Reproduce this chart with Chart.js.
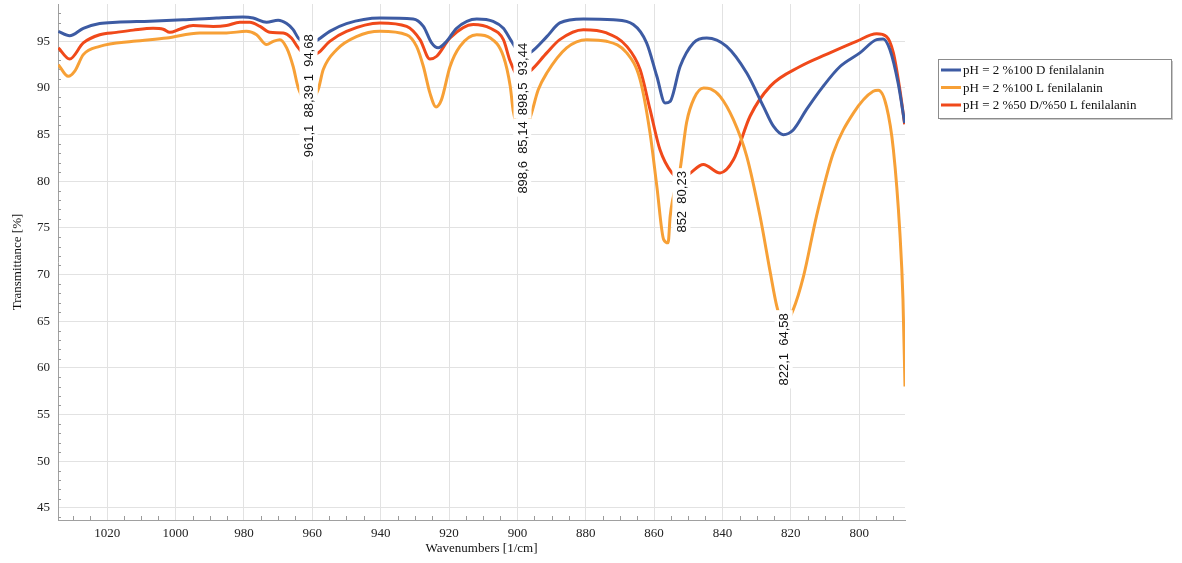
<!DOCTYPE html>
<html>
<head>
<meta charset="utf-8">
<script src="https://cdn.jsdelivr.net/npm/chart.js@4.4.0/dist/chart.umd.min.js"></script>
<style>
  html, body { margin: 0; padding: 0; background: #fff; }
</style>
</head>
<body>
<canvas id="ir-chart" width="1182" height="563"></canvas>
<script>
// series names (legend)
const seriesNames = ['pH = 2 %100 D fenilalanin', 'pH = 2 %100 L fenilalanin', 'pH = 2 %50 D/%50 L fenilalanin'];
const seriesColors = ['#3d5ba3', '#f7a036', '#f0491a'];

// %100 D
const dWave = [1034.3, 1031, 1027, 1022.2, 1017.3, 1007.5, 997.8, 988, 980.3, 977.3, 973.4, 970, 967.5, 965.6, 964.1, 961.1, 958.3, 954.9, 950, 940.2, 930.5, 927.5, 925.1, 923.2, 920.7, 917.8, 911.9, 907.1, 904.1, 901.7, 898.5, 895.8, 891.4, 887.6, 880.7, 871.9, 866.1, 862.2, 859.2, 856.8, 855.3, 852.4, 848.5, 844.6, 838.8, 832.9, 828, 825.1, 822.2, 819.3, 815.4, 810.5, 805.6, 799.8, 794.9, 793, 791, 788.6, 786.7];
const dTrans = [96.07, 95.6, 96.4, 96.9, 97.04, 97.15, 97.3, 97.5, 97.6, 97.5, 97.04, 97.25, 96.9, 96.25, 95.36, 94.68, 95.18, 96.07, 96.9, 97.5, 97.4, 96.6, 94.83, 94.3, 95.0, 96.4, 97.4, 97.15, 96.4, 95.0, 93.44, 93.9, 95.5, 96.97, 97.4, 97.3, 96.8, 94.83, 91.25, 88.4, 88.57, 92.3, 94.83, 95.36, 94.46, 91.6, 88.0, 85.9, 85.0, 85.5, 87.7, 90.2, 92.3, 93.76, 95.18, 95.25, 94.1, 90.5, 86.25];

// %100 L
const lWave = [1034.3, 1031.4, 1029.5, 1027, 1022.2, 1012.4, 1002.6, 992.9, 985.1, 979.3, 976.3, 973.4, 971.4, 969.5, 967.5, 965.6, 964.1, 961.1, 958.3, 956.8, 952.9, 947.1, 940.2, 932.4, 929.5, 927.5, 925.6, 923.8, 922.2, 919.7, 916.8, 911.9, 907.9, 904.1, 902.1, 901.2, 898.6, 896.3, 893.9, 891.4, 885.6, 879.7, 873.9, 868, 864.1, 861.2, 859.2, 857.2, 855.9, 855.3, 852.4, 850.5, 848.3, 845.5, 843.5, 840.7, 836.8, 832.9, 829, 826, 824.1, 822.1, 819.3, 816.3, 812.5, 807.6, 801.7, 795.9, 794.4, 792, 790, 788.1, 787.2, 786.6];
const lTrans = [92.5, 91.25, 91.8, 93.57, 94.46, 95.0, 95.36, 95.9, 95.9, 96.07, 95.7, 94.65, 95.0, 95.18, 94.3, 92.3, 90.0, 88.39, 89.8, 91.97, 94.1, 95.5, 96.07, 95.7, 94.46, 92.3, 89.47, 87.97, 88.75, 92.3, 94.46, 95.7, 95.36, 93.4, 90.2, 87.5, 85.14, 86.8, 89.8, 91.6, 94.3, 95.18, 95.0, 93.76, 90.9, 85.2, 79.46, 73.75, 73.4, 76.25, 81.25, 86.3, 88.9, 90.0, 89.9, 89.1, 86.6, 82.67, 76.25, 70.2, 66.6, 64.58, 66.25, 69.8, 76.25, 83.0, 87.3, 89.64, 89.75, 88.0, 83.4, 74.5, 67.4, 58.0];

// %50 D / %50 L
const mWave = [1034.3, 1031, 1027, 1022.2, 1017.3, 1012.4, 1006.6, 1003.6, 1001.7, 998.8, 994.9, 989, 985.1, 981.2, 978.3, 975.3, 972.4, 968.5, 966.1, 964.1, 961.1, 958.3, 954.9, 950, 940.2, 932.4, 928.5, 925.6, 923.6, 919.7, 912.9, 907.9, 904.1, 902.1, 899.5, 896.3, 891.4, 887.6, 880.7, 873.9, 868, 864.1, 861.2, 858.3, 854.8, 852, 849.4, 845.6, 840.7, 836.8, 831.9, 826, 817.3, 809.6, 800.8, 794.9, 792, 790, 788.1, 786.7];
const mTrans = [94.3, 93.1, 94.83, 95.7, 95.96, 96.2, 96.4, 96.3, 95.96, 96.3, 96.7, 96.6, 96.7, 97.04, 97.04, 96.6, 95.96, 95.9, 95.36, 94.3, 93.3, 93.76, 95.0, 96.07, 96.97, 96.6, 95.18, 93.1, 93.4, 95.36, 96.8, 96.4, 95.18, 92.86, 91.2, 91.8, 93.76, 95.18, 96.25, 95.9, 94.46, 91.97, 87.7, 83.4, 80.9, 80.23, 80.9, 81.8, 80.9, 82.3, 87.0, 90.2, 92.3, 93.6, 95.0, 95.8, 95.5, 93.76, 89.8, 86.1];

// peak labels: which series, position, text
const peakSeries = [0, 1, 0, 1, 2, 1];
const peakWave = [961.1, 961.1, 898.5, 898.6, 852, 822.1];
const peakValue = [94.68, 88.39, 93.44, 85.14, 80.23, 64.58];
const peakText = ['961,1  94,68', '961,1  88,39', '898,5  93,44', '898,6  85,14', '852  80,23', '822,1  64,58'];
const peakLift = [10, 18, 13, 12, 8, 12];

const waveTicks = [800, 820, 840, 860, 880, 900, 920, 940, 960, 980, 1000, 1020];

function toPoints(xs, ys) {
  return xs.map((x, i) => ({ x: x, y: ys[i] }));
}

const minorTicks = {
  id: 'minorTicks',
  beforeDatasetsDraw(chart) {
    const { ctx, chartArea, scales } = chart;
    ctx.save();
    ctx.strokeStyle = '#9a9a9a';
    ctx.lineWidth = 1;
    ctx.beginPath();
    for (let v = 790; v <= 1030; v += 5) {
      if (v % 20 === 0) continue;
      const px = Math.round(scales.x.getPixelForValue(v)) + 0.5;
      ctx.moveTo(px, chartArea.bottom);
      ctx.lineTo(px, chartArea.bottom - 4);
    }
    for (let v = 44; v <= 98; v++) {
      if (v % 5 === 0) continue;
      const py = Math.round(scales.y.getPixelForValue(v)) + 0.5;
      ctx.moveTo(chartArea.left, py);
      ctx.lineTo(chartArea.left + 3, py);
    }
    ctx.stroke();
    ctx.restore();
  }
};

const peakMarks = {
  id: 'peakMarks',
  afterDatasetsDraw(chart) {
    const { ctx, scales } = chart;
    ctx.save();
    ctx.font = '13px "Liberation Sans", Arial, sans-serif';
    ctx.textBaseline = 'middle';
    ctx.textAlign = 'right';
    peakText.forEach((t, i) => {
      const px = scales.x.getPixelForValue(peakWave[i]);
      const top = scales.y.getPixelForValue(peakValue[i]) - peakLift[i];
      const w = ctx.measureText(t).width;
      ctx.save();
      ctx.translate(px, top);
      ctx.rotate(-Math.PI / 2);
      ctx.fillStyle = '#ffffff';
      ctx.fillRect(-w - 3, -9, w + 6, 18);
      ctx.fillStyle = '#111111';
      ctx.fillText(t, 0, 1);
      ctx.restore();
    });
    ctx.restore();
  }
};

const boxLegend = {
  id: 'boxLegend',
  afterDraw(chart) {
    const ctx = chart.ctx;
    const left = 938, top = 59, width = 233, height = 59;
    ctx.save();
    ctx.fillStyle = '#c8c8c8';
    ctx.fillRect(left + 2, top + 2, width, height);
    ctx.fillStyle = '#ffffff';
    ctx.fillRect(left, top, width, height);
    ctx.strokeStyle = '#8c8c8c';
    ctx.lineWidth = 1;
    ctx.strokeRect(left + 0.5, top + 0.5, width, height);
    ctx.font = '13px "Liberation Serif", "Times New Roman", serif';
    ctx.textBaseline = 'middle';
    ctx.textAlign = 'left';
    chart.data.datasets.forEach((ds, i) => {
      const y = top + 11 + i * 17.5;
      ctx.strokeStyle = ds.borderColor;
      ctx.lineWidth = 3;
      ctx.beginPath();
      ctx.moveTo(left + 3, y);
      ctx.lineTo(left + 23, y);
      ctx.stroke();
      ctx.fillStyle = '#111111';
      ctx.fillText(ds.label, left + 25, y + 1);
    });
    ctx.restore();
  }
};

const serif = { family: '"Liberation Serif", "Times New Roman", serif', size: 13 };

new Chart(document.getElementById('ir-chart'), {
  type: 'line',
  data: {
    datasets: [
      { label: seriesNames[0], data: toPoints(dWave, dTrans), borderColor: seriesColors[0] },
      { label: seriesNames[1], data: toPoints(lWave, lTrans), borderColor: seriesColors[1] },
      { label: seriesNames[2], data: toPoints(mWave, mTrans), borderColor: seriesColors[2] }
    ]
  },
  options: {
    responsive: false,
    animation: false,
    events: [],
    layout: { padding: { top: 4, right: 277, left: 0, bottom: 0 } },
    elements: {
      line: { borderWidth: 3, cubicInterpolationMode: 'monotone', fill: false },
      point: { radius: 0 }
    },
    plugins: {
      legend: { display: false },
      tooltip: { enabled: false }
    },
    scales: {
      x: {
        type: 'linear',
        reverse: true,
        min: 786.6,
        max: 1034.4,
        afterBuildTicks: (s) => { s.ticks = waveTicks.map(v => ({ value: v })); },
        afterFit: (s) => { s.height = 43; s.paddingLeft = 0; s.paddingRight = 0; },
        ticks: { color: '#222', font: serif, padding: 6, maxRotation: 0, includeBounds: false, callback: (v) => String(v) },
        grid: { color: '#e2e2e2', drawTicks: false },
        border: { color: '#a0a0a0' },
        title: { display: true, text: 'Wavenumbers [1/cm]', color: '#111', font: serif, padding: { top: 0, bottom: 7 } }
      },
      y: {
        min: 43.7,
        max: 99,
        afterFit: (s) => { s.width = 58; s.paddingTop = 0; s.paddingBottom = 0; },
        ticks: { stepSize: 5, color: '#222', font: serif, padding: 8, includeBounds: false, callback: (v) => String(v) },
        grid: { color: '#e2e2e2', drawTicks: false },
        border: { color: '#a0a0a0' },
        title: { display: true, text: 'Transmittance [%]', color: '#111', font: serif, padding: { top: 10, bottom: 0 } }
      }
    }
  },
  plugins: [minorTicks, peakMarks, boxLegend]
});
</script>
</body>
</html>
